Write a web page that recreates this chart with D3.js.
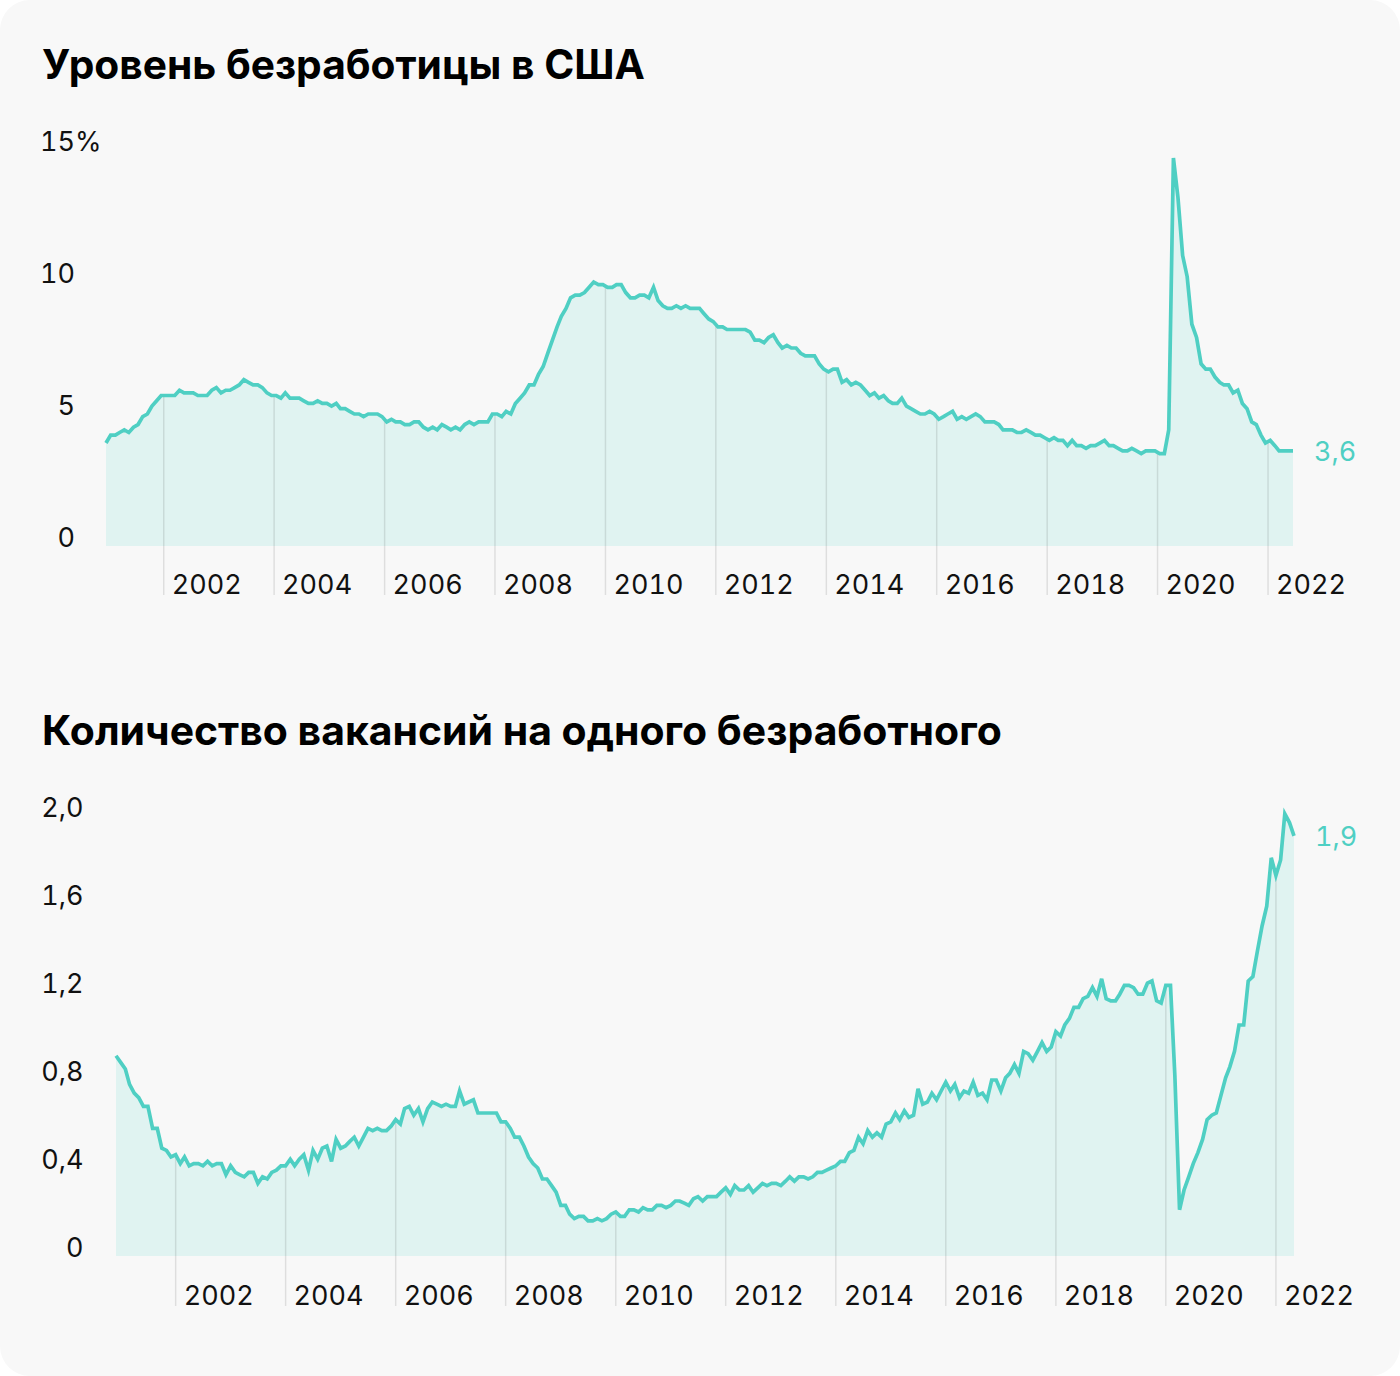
<!DOCTYPE html>
<html>
<head>
<meta charset="utf-8">
<script src="https://cdn.jsdelivr.net/npm/d3@7"></script>
<style>
  html, body { margin: 0; padding: 0; background: #ffffff; }
  #card { width: 1400px; height: 1376px; background: #f8f8f8; border-radius: 30px; overflow: hidden; }
  svg text { font-family: Inter, 'Noto Sans', sans-serif; font-feature-settings: 'tnum' 1; }
</style>
</head>
<body>
<div id="card"></div>
<script>
// monthly series, first month = Dec 2000
var unempStart = '2000-12';
var unempRate = [
  3.9,
  4.2, 4.2, 4.3, 4.4, 4.3, 4.5, 4.6, 4.9, 5.0, 5.3, 5.5, 5.7,
  5.7, 5.7, 5.7, 5.9, 5.8, 5.8, 5.8, 5.7, 5.7, 5.7, 5.9, 6.0,
  5.8, 5.9, 5.9, 6.0, 6.1, 6.3, 6.2, 6.1, 6.1, 6.0, 5.8, 5.7,
  5.7, 5.6, 5.8, 5.6, 5.6, 5.6, 5.5, 5.4, 5.4, 5.5, 5.4, 5.4,
  5.3, 5.4, 5.2, 5.2, 5.1, 5.0, 5.0, 4.9, 5.0, 5.0, 5.0, 4.9,
  4.7, 4.8, 4.7, 4.7, 4.6, 4.6, 4.7, 4.7, 4.5, 4.4, 4.5, 4.4,
  4.6, 4.5, 4.4, 4.5, 4.4, 4.6, 4.7, 4.6, 4.7, 4.7, 4.7, 5.0,
  5.0, 4.9, 5.1, 5.0, 5.4, 5.6, 5.8, 6.1, 6.1, 6.5, 6.8, 7.3,
  7.8, 8.3, 8.7, 9.0, 9.4, 9.5, 9.5, 9.6, 9.8, 10.0, 9.9, 9.9,
  9.8, 9.8, 9.9, 9.9, 9.6, 9.4, 9.4, 9.5, 9.5, 9.4, 9.8, 9.3,
  9.1, 9.0, 9.0, 9.1, 9.0, 9.1, 9.0, 9.0, 9.0, 8.8, 8.6, 8.5,
  8.3, 8.3, 8.2, 8.2, 8.2, 8.2, 8.2, 8.1, 7.8, 7.8, 7.7, 7.9,
  8.0, 7.7, 7.5, 7.6, 7.5, 7.5, 7.3, 7.2, 7.2, 7.2, 6.9, 6.7,
  6.6, 6.7, 6.7, 6.2, 6.3, 6.1, 6.2, 6.1, 5.9, 5.7, 5.8, 5.6,
  5.7, 5.5, 5.4, 5.4, 5.6, 5.3, 5.2, 5.1, 5.0, 5.0, 5.1, 5.0,
  4.8, 4.9, 5.0, 5.1, 4.8, 4.9, 4.8, 4.9, 5.0, 4.9, 4.7, 4.7,
  4.7, 4.6, 4.4, 4.4, 4.4, 4.3, 4.3, 4.4, 4.3, 4.2, 4.2, 4.1,
  4.0, 4.1, 4.0, 4.0, 3.8, 4.0, 3.8, 3.8, 3.7, 3.8, 3.8, 3.9,
  4.0, 3.8, 3.8, 3.7, 3.6, 3.6, 3.7, 3.6, 3.5, 3.6, 3.6, 3.6,
  3.5, 3.5, 4.4, 14.7, 13.2, 11.0, 10.2, 8.4, 7.9, 6.9, 6.7, 6.7,
  6.4, 6.2, 6.1, 6.1, 5.8, 5.9, 5.4, 5.2, 4.7, 4.6, 4.2, 3.9,
  4.0, 3.8, 3.6, 3.6, 3.6, 3.6
];

var vacStart = '2000-12';
var vacPerUnemployed = [
  0.91,
  0.88, 0.85, 0.78, 0.74, 0.72, 0.68, 0.68, 0.58, 0.58, 0.49, 0.48, 0.45,
  0.46, 0.42, 0.45, 0.41, 0.42, 0.42, 0.41, 0.43, 0.41, 0.42, 0.42, 0.37,
  0.41, 0.38, 0.37, 0.36, 0.38, 0.38, 0.33, 0.36, 0.35, 0.38, 0.39, 0.41,
  0.41, 0.44, 0.41, 0.44, 0.46, 0.39, 0.48, 0.44, 0.49, 0.50, 0.43, 0.53,
  0.49, 0.50, 0.52, 0.54, 0.50, 0.54, 0.58, 0.57, 0.58, 0.57, 0.57, 0.59,
  0.62, 0.60, 0.67, 0.68, 0.64, 0.67, 0.61, 0.67, 0.70, 0.69, 0.68, 0.69,
  0.68, 0.68, 0.75, 0.69, 0.70, 0.71, 0.65, 0.65, 0.65, 0.65, 0.65, 0.61,
  0.61, 0.58, 0.54, 0.54, 0.50, 0.45, 0.42, 0.40, 0.35, 0.35, 0.32, 0.29,
  0.23, 0.23, 0.19, 0.17, 0.18, 0.18, 0.16, 0.16, 0.17, 0.16, 0.17, 0.19,
  0.20, 0.18, 0.18, 0.21, 0.21, 0.20, 0.22, 0.21, 0.21, 0.23, 0.23, 0.22,
  0.23, 0.25, 0.25, 0.24, 0.23, 0.26, 0.27, 0.25, 0.27, 0.27, 0.27, 0.29,
  0.31, 0.28, 0.32, 0.30, 0.30, 0.32, 0.29, 0.31, 0.33, 0.32, 0.33, 0.33,
  0.32, 0.34, 0.36, 0.34, 0.36, 0.36, 0.35, 0.36, 0.38, 0.38, 0.39, 0.40,
  0.41, 0.43, 0.43, 0.47, 0.48, 0.54, 0.51, 0.57, 0.54, 0.56, 0.54, 0.60,
  0.61, 0.65, 0.62, 0.66, 0.63, 0.64, 0.76, 0.69, 0.70, 0.74, 0.71, 0.75,
  0.79, 0.75, 0.78, 0.72, 0.75, 0.74, 0.79, 0.73, 0.74, 0.71, 0.80, 0.80,
  0.75, 0.81, 0.83, 0.87, 0.83, 0.93, 0.92, 0.89, 0.93, 0.97, 0.93, 0.95,
  1.02, 1.00, 1.05, 1.08, 1.13, 1.13, 1.17, 1.18, 1.22, 1.18, 1.26, 1.17,
  1.16, 1.16, 1.19, 1.23, 1.23, 1.22, 1.19, 1.19, 1.24, 1.25, 1.16, 1.15,
  1.23, 1.23, 0.82, 0.21, 0.30, 0.36, 0.42, 0.47, 0.53, 0.62, 0.64, 0.65,
  0.73, 0.81, 0.86, 0.93, 1.05, 1.05, 1.25, 1.27, 1.39, 1.50, 1.59, 1.81,
  1.73, 1.80, 2.01, 1.97, 1.91
];

var tickYears = [2002, 2004, 2006, 2008, 2010, 2012, 2014, 2016, 2018, 2020, 2022];
var unempTicks = [0, 5, 10, 15];
var vacTicks = [0, 0.4, 0.8, 1.2, 1.6, 2.0];
var titles = ['Уровень безработицы в США', 'Количество вакансий на одного безработного'];

var width = 1400;
var height = 1376;
var lineColor = '#4fcfc3';
var areaColor = '#e0f3f1';
var fontSize = 27;

var svg = d3.select('#card').append('svg')
  .attr('width', width)
  .attr('height', height);

var commaFormat = function(d) {
  if (d === 0) {
    return '0';
  }
  return d3.format('.1f')(d).replace('.', ',');
};

function drawPanel(opt) {
  var parseMonth = d3.timeParse('%Y-%m');
  var start = d3.timeDay.offset(parseMonth(opt.start), opt.day - 1);

  var data = opt.values.map(function(v, i) {
    return { date: d3.timeMonth.offset(start, i), value: v };
  });

  var xScale = d3.scaleTime()
    .domain(d3.extent(data, function(d) { return d.date; }))
    .range(opt.xRange);

  var yScale = d3.scaleLinear()
    .domain(opt.yDomain)
    .range(opt.yRange);

  // title
  var title = svg.append('text')
    .attr('x', 42)
    .attr('y', opt.titleY)
    .style('font-weight', 700)
    .style('font-size', '40px')
    .style('font-feature-settings', 'normal')
    .style('fill', '#000')
    .text(opt.title);
  var len = title.node().getComputedTextLength();
  title.style('font-size', (40 * opt.titleWidth / len) + 'px');

  // area
  var area = d3.area()
    .x(function(d) { return xScale(d.date); })
    .y0(yScale(0))
    .y1(function(d) { return yScale(d.value); });

  svg.append('path')
    .datum(data)
    .attr('d', area)
    .style('fill', areaColor);

  // year lines, from the curve down to the label
  var tickDates = tickYears.map(function(y) { return new Date(y, 0, 1); });
  var bisect = d3.bisector(function(d) { return d.date; }).left;

  svg.append('g')
    .selectAll('line')
    .data(tickDates)
    .enter()
    .append('line')
    .attr('x1', function(d) { return xScale(d); })
    .attr('x2', function(d) { return xScale(d); })
    .attr('y1', function(d) {
      var i = bisect(data, d);
      if (i <= 0 || i >= data.length) {
        return yScale(0);
      }
      var a = data[i - 1];
      var b = data[i];
      var t = (d - a.date) / (b.date - a.date);
      return yScale(a.value + (b.value - a.value) * t);
    })
    .attr('y2', opt.labelY + 1)
    .style('stroke', 'rgba(0,0,0,0.1)')
    .style('stroke-width', 1.5);

  // line
  var line = d3.line()
    .x(function(d) { return xScale(d.date); })
    .y(function(d) { return yScale(d.value); });

  svg.append('path')
    .datum(data)
    .attr('d', line)
    .style('fill', 'none')
    .style('stroke', lineColor)
    .style('stroke-width', 3.7)
    .style('stroke-linejoin', 'miter');

  // y axis
  var yAxis = d3.axisLeft(yScale)
    .tickValues(opt.yTicks)
    .tickSize(0)
    .tickPadding(0)
    .tickFormat(opt.yFormat);

  var yG = svg.append('g')
    .attr('transform', 'translate(' + opt.axisX + ',0)')
    .call(yAxis);
  yG.select('.domain').remove();
  yG.attr('font-family', null).attr('font-size', null);
  yG.selectAll('text')
    .attr('dy', 0)
    .style('font-size', fontSize + 'px')
    .style('fill', '#111');

  if (opt.suffix) {
    yG.selectAll('.tick')
      .filter(function(d) { return d === opt.yTicks[opt.yTicks.length - 1]; })
      .append('text')
      .attr('x', 0)
      .attr('text-anchor', 'start')
      .style('font-size', fontSize + 'px')
      .style('fill', '#111')
      .text(opt.suffix);
  }

  // x axis labels
  var xAxis = d3.axisBottom(xScale)
    .tickValues(tickDates)
    .tickSize(0)
    .tickFormat(d3.timeFormat('%Y'));

  var xG = svg.append('g')
    .attr('transform', 'translate(0,' + opt.labelY + ')')
    .call(xAxis);
  xG.select('.domain').remove();
  xG.attr('font-family', null).attr('font-size', null);
  xG.selectAll('text')
    .attr('y', 0)
    .attr('dy', 0)
    .attr('x', 7.5)
    .attr('text-anchor', 'start')
    .style('font-size', fontSize + 'px')
    .style('fill', '#111');

  // last value
  var last = data[data.length - 1];
  svg.append('text')
    .attr('x', xScale(last.date) + 21)
    .attr('y', yScale(last.value))
    .attr('dy', '0.36em')
    .style('font-size', fontSize + 'px')
    .style('fill', lineColor)
    .text(commaFormat(Math.round(last.value * 10) / 10));
}

drawPanel({
  title: titles[0],
  titleY: 79,
  titleWidth: 603,
  start: unempStart,
  day: 15,
  values: unempRate,
  xRange: [106, 1293],
  yDomain: [0, 15],
  yRange: [546, 150],
  yTicks: unempTicks,
  yFormat: function(d) { return d; },
  suffix: '%',
  axisX: 75,
  labelY: 594
});

drawPanel({
  title: titles[1],
  titleY: 745,
  titleWidth: 960,
  start: vacStart,
  day: 1,
  values: vacPerUnemployed,
  xRange: [116, 1294],
  yDomain: [0, 2],
  yRange: [1256, 816],
  yTicks: vacTicks,
  yFormat: commaFormat,
  suffix: null,
  axisX: 83.5,
  labelY: 1305
});
</script>
</body>
</html>
